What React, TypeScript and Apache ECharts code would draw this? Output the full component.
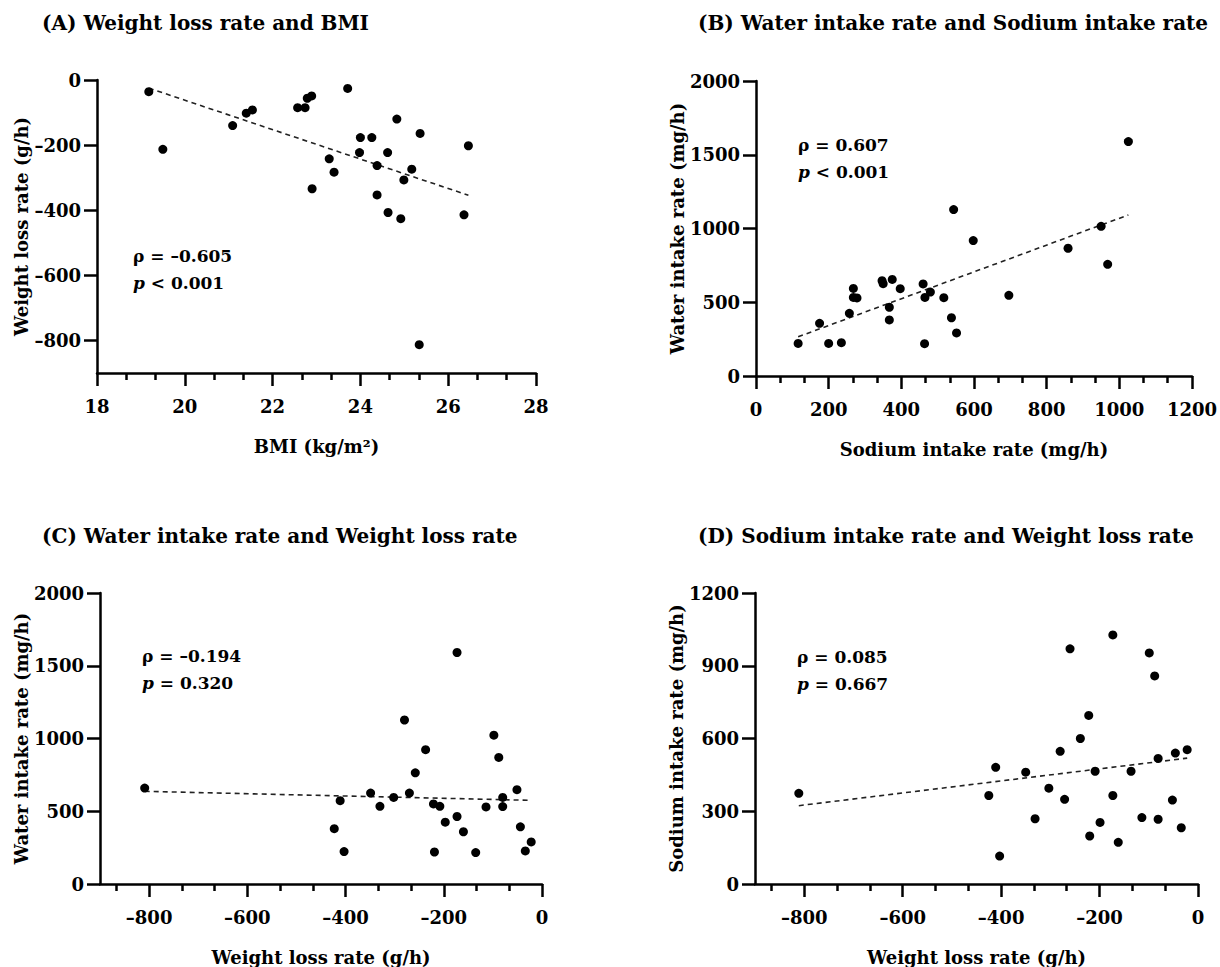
import React, { useEffect, useRef } from "react";
import * as echarts from "echarts";

// ---------- Data ----------
// (A) Weight loss rate vs BMI
const bmiA = [19.18, 19.5, 21.09, 21.4, 21.54, 22.57, 22.74, 22.79, 22.89, 22.9, 23.29, 23.4, 23.71, 24.0, 24.26, 23.98, 24.62, 24.38, 24.38, 24.63, 24.83, 25.17, 24.99, 24.92, 25.36, 25.34, 26.46, 26.36];
const weightLossA = [-36, -213, -140, -102, -92, -85, -85, -56, -49, -334, -242, -283, -26, -177, -177, -223, -223, -263, -353, -407, -120, -274, -307, -426, -164, -813, -202, -414];
const trendAx = [19.18, 26.46];
const trendAy = [-25, -354];

// (B) Water intake rate vs Sodium intake rate
const sodiumB = [116, 175, 200, 235, 257, 268, 268, 278, 347, 350, 375, 367, 367, 397, 460, 465, 464, 480, 517, 538, 544, 552, 598, 696, 859, 950, 968, 1025];
const waterB = [221, 357, 221, 226, 425, 594, 533, 529, 646, 626, 655, 466, 380, 592, 624, 533, 219, 569, 531, 395, 1128, 292, 918, 547, 866, 1015, 757, 1589];
const trendBx = [116, 1025];
const trendBy = [266, 1092];

// (C) Water intake rate vs Weight loss rate
const weightLossC = [-809, -423, -411, -403, -349, -330, -302, -280, -270, -258, -237, -221, -219, -208, -197, -173, -173, -160, -135, -114, -98, -88, -80, -80, -51, -44, -34, -22];
const waterC = [659, 380, 573, 223, 625, 534, 595, 1127, 625, 764, 923, 550, 220, 534, 425, 1591, 464, 359, 216, 530, 1023, 870, 595, 532, 648, 393, 227, 289];
const trendCx = [-809, -22];
const trendCy = [637, 575];

// (D) Sodium intake rate vs Weight loss rate
const weightLossD = [-811, -425, -411, -403, -350, -331, -303, -280, -271, -260, -239, -222, -220, -209, -199, -173, -173, -162, -136, -114, -99, -88, -81, -81, -52, -46, -34, -22];
const sodiumD = [374, 365, 481, 115, 461, 269, 395, 547, 349, 970, 600, 695, 198, 465, 254, 1027, 365, 172, 465, 274, 953, 858, 518, 267, 346, 540, 232, 554];
const trendDx = [-811, -22];
const trendDy = [323, 519];

// Titles, axis names, annotations
const titles = [
  "(A) Weight loss rate and BMI",
  "(B) Water intake rate and Sodium intake rate",
  "(C) Water intake rate and Weight loss rate",
  "(D) Sodium intake rate and Weight loss rate",
];
const xNames = ["BMI (kg/m\u00b2)", "Sodium intake rate (mg/h)", "Weight loss rate (g/h)", "Weight loss rate (g/h)"];
const yNames = ["Weight loss rate (g/h)", "Water intake rate (mg/h)", "Water intake rate (mg/h)", "Sodium intake rate (mg/h)"];
const rhoTexts = ["\u03c1 = \u20130.605", "\u03c1 = 0.607", "\u03c1 = \u20130.194", "\u03c1 = 0.085"];
const pTexts = ["< 0.001", "< 0.001", "= 0.320", "= 0.667"];

// Tick labels
const xTicksA = [18, 20, 22, 24, 26, 28];
const xTicksB = [0, 200, 400, 600, 800, 1000, 1200];
const xTicksCD = [-800, -600, -400, -200, 0];
const yTicksA = [0, -200, -400, -600, -800];
const yTicksBC = [0, 500, 1000, 1500, 2000];
const yTicksD = [0, 300, 600, 900, 1200];

// ---------- Layout / style ----------
const FONT = "DejaVu Serif";
const grids = [
  { left: 97, top: 80, width: 439, height: 293 },
  { left: 756, top: 81, width: 443, height: 295 },
  { left: 100, top: 593, width: 442, height: 294 },
  { left: 755, top: 593, width: 443, height: 294 },
];
const xRanges = [
  [18, 28],
  [0, 1200],
  [-900, 0],
  [-900, 0],
];
const yRanges = [
  [-900, 0],
  [0, 2000],
  [0, 2000],
  [0, 1200],
];
const xMajor = [xTicksA, xTicksB, xTicksCD, xTicksCD];
const yMajor = [yTicksA, yTicksBC, yTicksBC, yTicksD];
const yNameGaps = [64, 62, 70, 53];
const annotPos = [
  [133, 258],
  [798, 147],
  [142, 658],
  [797, 659],
];

function minorTicks(major: number[], min: number, max: number): number[] {
  const step = (major[1] - major[0]) / 3;
  const out: number[] = [];
  for (let v = major[0] - step; v >= min - 1e-9; v -= step) out.push(v);
  for (let i = 0; i < major.length - 1; i++) {
    out.push(major[i] + step, major[i] + 2 * step);
  }
  for (let v = major[major.length - 1] + step; v <= max + 1e-9; v += step) out.push(v);
  return out;
}

const fmt = (v: number) => (v < 0 ? "\u2013" + Math.abs(v) : String(v));
const zip = (a: number[], b: number[]) => a.map((x, i) => [x, b[i]]);

const scatterData = [
  zip(bmiA, weightLossA),
  zip(sodiumB, waterB),
  zip(weightLossC, waterC),
  zip(weightLossD, sodiumD),
];
const trendData = [
  zip(trendAx, trendAy),
  zip(trendBx, trendBy),
  zip(trendCx, trendCy),
  zip(trendDx, trendDy),
];

const labelStyle = { fontFamily: FONT, fontWeight: "bold" as const, fontSize: 18, color: "#000" };
const nameStyle = { fontFamily: FONT, fontWeight: "bold" as const, fontSize: 18, color: "#000" };

function buildOption() {
  const xAxis: any[] = [];
  const yAxis: any[] = [];
  const series: any[] = [];
  for (let i = 0; i < 4; i++) {
    xAxis.push({
      gridIndex: i,
      type: "value",
      position: "bottom",
      min: xRanges[i][0],
      max: xRanges[i][1],
      axisLine: { show: true, onZero: false, lineStyle: { color: "#000", width: 2.5 } },
      axisTick: { show: true, length: 13, customValues: xMajor[i], lineStyle: { color: "#000", width: 2.5 } },
      axisLabel: { ...labelStyle, margin: 24, customValues: xMajor[i], formatter: fmt },
      splitLine: { show: false },
      name: xNames[i],
      nameLocation: "middle",
      nameGap: 64,
      nameTextStyle: nameStyle,
    });
    yAxis.push({
      gridIndex: i,
      type: "value",
      min: yRanges[i][0],
      max: yRanges[i][1],
      axisLine: { show: true, onZero: false, lineStyle: { color: "#000", width: 2.5 } },
      axisTick: { show: true, length: 13, customValues: yMajor[i], lineStyle: { color: "#000", width: 2.5 } },
      axisLabel: { ...labelStyle, margin: 16, customValues: yMajor[i], formatter: fmt },
      splitLine: { show: false },
      name: yNames[i],
      nameLocation: "middle",
      nameGap: yNameGaps[i],
      nameTextStyle: nameStyle,
    });
  }
  // minor tick axes
  for (let i = 0; i < 4; i++) {
    xAxis.push({
      gridIndex: i,
      type: "value",
      position: "bottom",
      min: xRanges[i][0],
      max: xRanges[i][1],
      axisLine: { show: false, onZero: false },
      axisTick: {
        show: true,
        length: 7,
        customValues: minorTicks(xMajor[i], xRanges[i][0], xRanges[i][1]),
        lineStyle: { color: "#000", width: 2.5 },
      },
      axisLabel: { show: false },
      splitLine: { show: false },
    });
  }
  for (let i = 0; i < 4; i++) {
    series.push({
      type: "line",
      xAxisIndex: i,
      yAxisIndex: i,
      data: trendData[i],
      symbol: "none",
      z: 1,
      lineStyle: { color: "#222", width: 1.6, type: [5, 4] },
    });
    series.push({
      type: "scatter",
      xAxisIndex: i,
      yAxisIndex: i,
      data: scatterData[i],
      symbol: "circle",
      symbolSize: 9,
      z: 3,
      itemStyle: { color: "#000", opacity: 1 },
    });
  }
  const title = titles.map((t, i) => ({
    text: t,
    left: i % 2 === 0 ? 42 : 698,
    top: i < 2 ? 13 : 526,
    padding: 0,
    textStyle: { fontFamily: FONT, fontWeight: "bold", fontSize: 20, color: "#000" },
  }));
  const graphic: any[] = [];
  for (let i = 0; i < 4; i++) {
    const [x, y] = annotPos[i];
    graphic.push({
      type: "text",
      left: x,
      top: y - 11,
      style: {
        text: rhoTexts[i],
        fontFamily: FONT,
        fontWeight: "bold",
        fontSize: 17,
        fill: "#000",
      },
    });
    graphic.push({
      type: "text",
      left: x,
      top: y + 16,
      style: {
        text: "{i|p} {n|" + pTexts[i] + "}",
        rich: {
          i: { fontFamily: FONT, fontWeight: "bold", fontStyle: "italic", fontSize: 17, fill: "#000" },
          n: { fontFamily: FONT, fontWeight: "bold", fontSize: 17, fill: "#000" },
        },
        fontFamily: FONT,
        fontWeight: "bold",
        fontSize: 17,
        fill: "#000",
      },
    });
  }
  return {
    animation: false,
    backgroundColor: "#fff",
    title,
    grid: grids.map((g) => ({ ...g, containLabel: false })),
    xAxis,
    yAxis,
    series,
    graphic,
  };
}

export default function App() {
  const ref = useRef<HTMLDivElement>(null);
  useEffect(() => {
    if (!ref.current) return;
    const chart = echarts.init(ref.current, null, { renderer: "svg" });
    chart.setOption(buildOption() as any);
    return () => chart.dispose();
  }, []);
  return (
    <div
      ref={ref}
      style={{ position: "absolute", left: 0, top: 0, width: 1220, height: 967, background: "#fff" }}
    />
  );
}
